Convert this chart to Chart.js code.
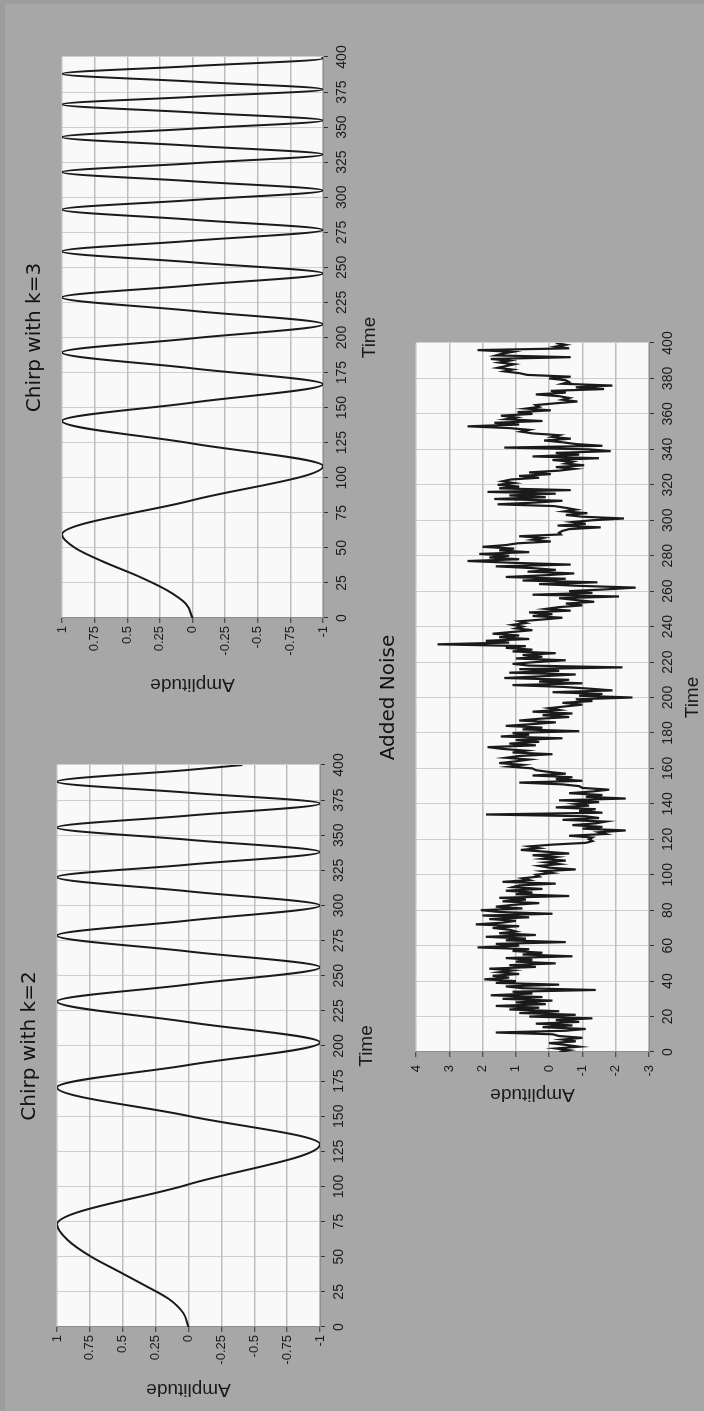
<!DOCTYPE html>
<html>
<head>
<meta charset="utf-8">
<script src="https://cdn.jsdelivr.net/npm/chart.js@4/dist/chart.umd.min.js"></script>
<style>
  html, body { margin: 0; padding: 0; }
  body { width: 704px; height: 1411px; overflow: hidden; background: #a7a7a7; position: relative; }
  /* thin darker band along the page's left and top edges */
  #frame { position: absolute; left: 0; top: 0; width: 704px; height: 1411px; box-sizing: border-box;
           box-shadow: inset 5px 4px 0 0 #9d9d9d; pointer-events: none; }
  /* The figure is laid out landscape and turned a quarter turn counter-clockwise onto the page */
  #fig { position: absolute; left: 0; top: 0; width: 1411px; height: 704px;
         transform-origin: 0 0; transform: translateY(1411px) rotate(-90deg); }
  .panel { position: absolute; }
  .panel canvas { display: block; }
</style>
</head>
<body>
<div id="frame"></div>
<div id="fig">
  <div class="panel" style="left:0px;top:0px;"><canvas id="chirp2" width="666" height="390"></canvas></div>
  <div class="panel" style="left:700px;top:0px;"><canvas id="chirp3" width="674" height="390"></canvas></div>
  <div class="panel" style="left:290px;top:360px;"><canvas id="noise" width="798" height="344"></canvas></div>
</div>
<script>
// ---- Chirp with k=2: rise, then extrema and zero crossings (time, amplitude)
const chirp2Time = [0, 10, 20, 30, 40, 50, 62, 73, 101.5, 130, 150.2, 170.5, 186.5, 202.5, 217, 231.7, 243.8, 256,
  267.3, 278.6, 289.3, 300, 310.1, 320.2, 329.1, 338.1, 346.8, 355.5, 364, 372.6, 380.3, 388.1, 396.5, 400];
const chirp2Amp = [0, 0.04, 0.15, 0.34, 0.54, 0.74, 0.92, 1, 0, -1, 0, 1, 0, -1, 0, 1, 0, -1,
  0, 1, 0, -1, 0, 1, 0, -1, 0, 1, 0, -1, 0, 1, 0, -0.41];

// ---- Chirp with k=3
const chirp3Time = [0, 10, 20, 30, 40, 50, 59.5, 84, 108.3, 124.4, 140.5, 153.6, 166.7, 178, 189.3, 199.4, 209.5,
  219, 228.6, 237.2, 245.7, 253.6, 261.4, 269, 276.7, 284, 291.2, 298, 304.8, 311.4, 317.9, 324.2, 330.5,
  336.7, 342.9, 348.9, 354.8, 360.5, 366.2, 371.6, 376.9, 382.5, 388, 393.5, 399, 400];
const chirp3Amp = [0, 0.05, 0.2, 0.42, 0.68, 0.9, 1, 0, -1, 0, 1, 0, -1, 0, 1, 0, -1,
  0, 1, 0, -1, 0, 1, 0, -1, 0, 1, 0, -1, 0, 1, 0, -1,
  0, 1, 0, -1, 0, 1, 0, -1, 0, 1, 0, -1, -0.99];

// ---- Added noise: one sample per time step, t = 0 .. 400
const noiseAmp = [
  -0.3, -0.6, -0.2, -0.9, -0.5, 0.0, -0.8, -0.4, -1.0, -0.3,
  -0.1, 1.6, -0.5, -1.1, 0.2, -0.7, 0.4, -0.9, -0.2, -1.3,
  0.6, -0.8, 0.9, -0.3, 1.2, 0.3, 1.6, 0.1, 1.0, -0.1,
  1.4, 0.2, 1.75, 0.5, 1.1, -1.4, 0.8, 1.3, -0.3, 1.6,
  1.0, 1.95, 1.2, 1.7, 0.9, 1.5, 1.1, 1.8, 0.4, 1.2,
  -0.2, 1.0, 0.5, 1.3, -0.7, 0.8, 0.2, 1.1, 0.6, 2.15,
  0.9, 1.6, -0.5, 1.3, 0.7, 1.9, 0.4, 1.5, 1.0, 1.2,
  1.7, 0.9, 2.2, 1.4, 1.0, 1.8, 0.6, 2.0, -0.1, 1.5,
  2.05, 0.8, 1.6, 1.1, 0.3, 1.4, 0.7, 1.5, -0.6, 1.0,
  0.5, 1.3, 0.2, 1.1, 0.9, -0.2, 1.4, 0.6, 0.8, 0.3,
  0.4, -0.1, 0.2, -0.8, 0.0, 0.3, -0.3, 0.1, -0.5, 0.2,
  -0.2, 0.5, -0.6, 0.1, 0.85, 0.3, 0.6, -0.1, -1.1, -1.3,
  -1.2, -1.3, -0.6, -1.7, -1.5, -2.3, -1.0, -1.6, -0.7, -1.4,
  -1.7, -0.4, -1.5, -1.1, 1.9, -1.6, -0.9, -1.4, -0.2, -1.2,
  -0.8, -1.5, -0.3, -2.3, -1.1, -1.6, -0.6, -1.3, -1.8, -1.0,
  -0.9, -0.4, 0.9, -1.0, -0.2, -0.7, 0.5, -0.5, 0.0, 0.4,
  0.5, 1.2, 0.8, 1.5, 1.0, 0.6, 1.3, 0.9, -0.1, 1.1,
  0.7, 1.4, 1.85, 0.4, 1.2, 0.3, 1.0, -0.4, 1.45, 0.6,
  1.1, -0.9, 0.8, 0.2, 1.3, 0.5, -0.2, 0.9, 0.3, -0.6,
  0.2, -0.7, 0.5, -0.3, 0.0, -0.5, -1.0, -0.4, -1.3, -0.8,
  -2.5, -0.9, -1.6, -0.1, -1.9, -1.2, -0.4, 1.1, -1.0, 0.3,
  -0.6, 1.35, 0.2, -0.8, 1.2, -0.3, 0.9, -2.2, 0.6, 1.1,
  0.4, -0.5, 1.0, 0.2, 0.8, -0.2, 1.1, 0.5, 1.3, 0.7,
  3.35, 1.2, 1.9, 0.6, 1.5, 0.9, 1.7, 1.1, 0.5, 1.0,
  0.8, 1.1, 0.7, 0.9, 0.2, -0.4, 0.5, -0.1, 0.6, -0.65,
  0.1, -0.3, -1.0, -0.5, -1.35, -0.8, -0.3, -2.1, 0.5, -1.3,
  -0.6, -1.7, -2.6, -0.9, 0.3, -1.45, 0.8, -0.5, 1.3, 0.1,
  -0.75, 0.65, -0.2, 0.5, 1.6, -0.65, 1.1, 2.45, 0.9, 1.8,
  1.2, 2.1, 0.6, 1.5, 1.05, 2.0, 1.3, 0.95, -0.05, 0.5,
  0.2, 0.9, -0.35, -0.3, -0.4, -0.6, -1.55, -0.25, -1.1, -0.7,
  -1.3, -2.25, -1.0, -0.5, -1.15, -0.45, -0.8, -0.5, -0.15, 1.55,
  0.4, -0.4, 1.65, 0.1, 1.2, -0.2, 1.85, -0.65, 1.5, 0.9,
  1.55, 1.05, 1.4, 1.15, 0.3, 0.9, -0.05, 0.6, -0.3, -0.75,
  -0.2, -1.05, -0.5, -0.7, -0.1, -1.5, 0.5, -0.9, -0.2, -1.85,
  -1.2, 1.35, -1.6, -0.8, -0.4, 0.15, -0.65, -0.1, -0.3, 0.5,
  0.85, 0.6, 1.2, 2.45, 0.9, 1.65, 0.2, 1.3, 1.0, 1.45,
  0.5, 0.95, -0.05, 0.7, 0.3, 0.4, -0.2, -0.85, -0.4, -0.6,
  -0.3, 0.4, -0.5, -0.05, -1.65, -0.8, -1.9, -0.4, -0.6, -0.5,
  0.0, -0.65, 0.65, 0.9, 1.35, 1.1, 1.55, 1.3, 1.05, 1.5,
  1.2, 1.75, -0.65, 1.6, 1.4, 1.1, 2.15, -0.6, -0.2, -0.5,
  -0.2
];

// ---- Tick labels
const chirpTimeTicks = [0, 25, 50, 75, 100, 125, 150, 175, 200, 225, 250, 275, 300, 325, 350, 375, 400];
const chirpAmpTicks = [-1, -0.75, -0.5, -0.25, 0, 0.25, 0.5, 0.75, 1];
const noiseTimeTicks = [0, 20, 40, 60, 80, 100, 120, 140, 160, 180, 200, 220, 240, 260, 280, 300, 320, 340, 360, 380, 400];
const noiseAmpTicks = [-3, -2, -1, 0, 1, 2, 3, 4];

// ---- Styling
const INK = '#1a1a1a';
const GRID_TIME = '#cfcfcf';
const GRID_AMP = '#bdbdbd';
const PLOT_BG = '#f9f9f9';
const SANS = 'Liberation Sans, Arial, sans-serif';
const TIME_TICK_FONT = { family: SANS, size: 14 };
const AMP_TICK_FONT = { family: SANS, size: 13 };
const AXIS_TITLE_FONT = { family: SANS, size: 19 };
const TITLE_FONT = { family: 'DejaVu Sans, sans-serif', size: 20, weight: 'normal' };

const plotFill = {
  id: 'plotFill',
  beforeDraw(chart) {
    const { ctx, chartArea: a } = chart;
    ctx.save();
    ctx.fillStyle = PLOT_BG;
    ctx.fillRect(a.left, a.top, a.right - a.left, a.bottom - a.top);
    ctx.restore();
  }
};

function makeChart(id, cfg) {
  const points = cfg.time.map((t, i) => ({ x: t, y: cfg.amp[i] }));
  return new Chart(document.getElementById(id), {
    type: 'line',
    data: {
      datasets: [{
        data: points,
        borderColor: INK,
        borderWidth: cfg.lineWidth,
        pointRadius: 0,
        fill: false,
        cubicInterpolationMode: cfg.smooth ? 'monotone' : 'default',
        tension: 0
      }]
    },
    options: {
      responsive: false,
      animation: false,
      devicePixelRatio: 1,
      events: [],
      layout: { padding: cfg.pad },
      plugins: {
        legend: { display: false },
        tooltip: { enabled: false },
        title: {
          display: true, text: cfg.title, fullSize: false,
          color: '#111', font: TITLE_FONT, padding: { top: 0, bottom: 15 }
        }
      },
      scales: {
        x: {
          type: 'linear', min: 0, max: 400,
          afterBuildTicks: s => { s.ticks = cfg.xTicks.map(v => ({ value: v })); },
          afterFit: s => { s.height = cfg.xHeight; },
          ticks: { color: INK, font: TIME_TICK_FONT, padding: 6, autoSkip: false, maxRotation: 0,
                   callback: v => String(v) },
          grid: { color: GRID_TIME, lineWidth: 1, drawTicks: true, tickLength: 5, tickColor: '#333', tickWidth: 1 },
          border: { display: true, color: '#8d8d8d', width: 1 },
          title: { display: true, text: 'Time', color: INK, font: AXIS_TITLE_FONT, padding: { top: 0, bottom: 0 } }
        },
        y: {
          type: 'linear', min: cfg.yMin, max: cfg.yMax,
          afterBuildTicks: s => { s.ticks = cfg.yTicks.map(v => ({ value: v })); },
          afterFit: s => { s.width = cfg.yWidth; },
          ticks: { color: INK, font: AMP_TICK_FONT, padding: cfg.yTickPad, autoSkip: false,
                   callback: v => String(v) },
          grid: { color: GRID_AMP, lineWidth: 1.5, drawTicks: true, tickLength: 5, tickColor: '#333', tickWidth: 1 },
          border: { display: true, color: '#8d8d8d', width: 1 },
          title: { display: true, text: 'Amplitude', color: INK, font: AXIS_TITLE_FONT, padding: { top: 0, bottom: 0 } }
        }
      }
    },
    plugins: [plotFill]
  });
}

makeChart('chirp2', {
  title: 'Chirp with k=2', time: chirp2Time, amp: chirp2Amp, smooth: true, lineWidth: 2,
  xTicks: chirpTimeTicks, yTicks: chirpAmpTicks, yMin: -1, yMax: 1,
  pad: { left: 10, right: 20, top: 18, bottom: 12 }, yWidth: 74, xHeight: 58, yTickPad: 3
});

makeChart('chirp3', {
  title: 'Chirp with k=3', time: chirp3Time, amp: chirp3Amp, smooth: true, lineWidth: 2,
  xTicks: chirpTimeTicks, yTicks: chirpAmpTicks, yMin: -1, yMax: 1,
  pad: { left: 15, right: 20, top: 23, bottom: 9 }, yWidth: 78, xHeight: 58, yTickPad: 3
});

makeChart('noise', {
  title: 'Added Noise', time: noiseAmp.map((_, i) => i), amp: noiseAmp, smooth: false, lineWidth: 2.2,
  xTicks: noiseTimeTicks, yTicks: noiseAmpTicks, yMin: -3, yMax: 4,
  pad: { left: 15, right: 20, top: 17, bottom: 0 }, yWidth: 54, xHeight: 55, yTickPad: 8
});
</script>
</body>
</html>
